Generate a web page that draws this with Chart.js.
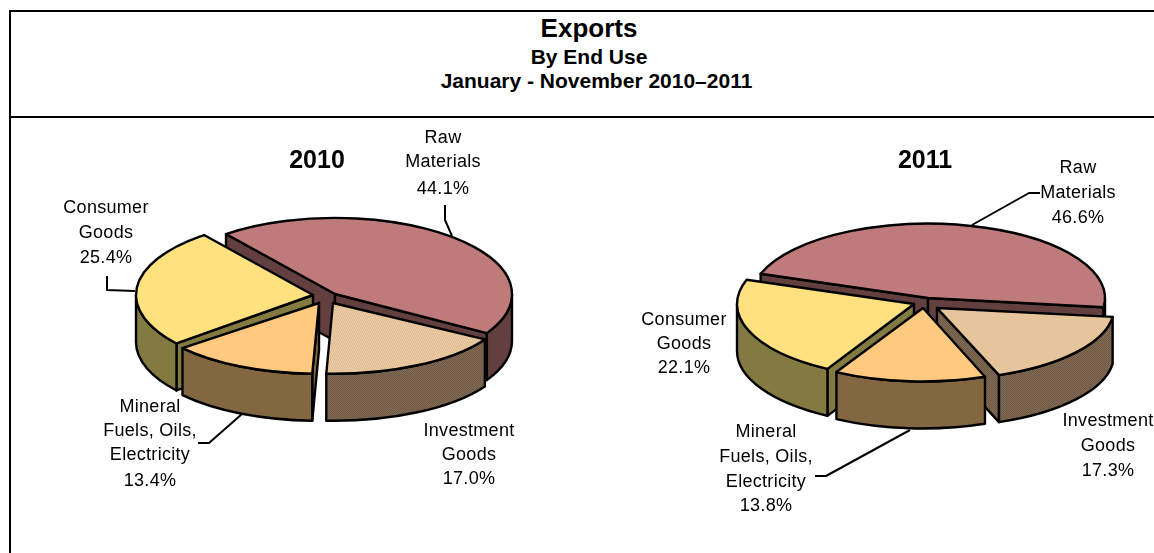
<!DOCTYPE html>
<html><head><meta charset="utf-8">
<script src="https://cdn.jsdelivr.net/npm/chart.js@4"></script>
<style>
html,body{margin:0;padding:0;background:#fff;width:1154px;height:553px;overflow:hidden;font-family:"Liberation Sans",Arial,sans-serif}
.ln{position:absolute;background:#000}
.t{position:absolute;left:0;text-align:center;font-weight:bold;color:#000;white-space:nowrap}
canvas{position:absolute}
#w1,#w2{position:absolute}
</style></head><body>
<div class="ln" style="left:10px;top:10px;width:1144px;height:2px"></div>
<div class="ln" style="left:10px;top:116px;width:1144px;height:2px"></div>
<div class="ln" style="left:9px;top:10px;width:2px;height:543px"></div>
<div class="t" style="top:13px;width:1178px;font-size:26px;line-height:30px">Exports</div>
<div class="t" style="top:46px;width:1178px;font-size:21px;line-height:22px">By End Use</div>
<div class="t" style="top:70px;width:1193px;font-size:21px;line-height:22px">January - November 2010–2011</div>
<div id="w1" style="left:10px;top:118px;width:590px;height:435px"><canvas id="c1"></canvas></div>
<div id="w2" style="left:600px;top:118px;width:554px;height:435px"><canvas id="c2"></canvas></div>
<script>
const categories = ["Raw Materials", "Investment Goods", "Mineral Fuels, Oils, Electricity", "Consumer Goods"];
const values2010 = [44.1, 17.0, 13.4, 25.4];
const values2011 = [46.6, 17.3, 13.8, 22.1];
const valueLabels2010 = ["44.1%", "17.0%", "13.4%", "25.4%"];
const valueLabels2011 = ["46.6%", "17.3%", "13.8%", "22.1%"];
const categoryLines = [["Raw","Materials"],["Investment","Goods"],["Mineral","Fuels, Oils,","Electricity"],["Consumer","Goods"]];

function dither(a, b){
  const c = document.createElement('canvas'); c.width = 2; c.height = 2;
  const x = c.getContext('2d');
  x.fillStyle = a; x.fillRect(0,0,2,2);
  x.fillStyle = b; x.fillRect(0,0,1,1); x.fillRect(1,1,1,1);
  return x.createPattern(c,'repeat');
}
const topColors = [dither('#c27c7c','#bd7a7a'), dither('#f0d2aa','#dcb88e'), '#ffc980', '#ffe27f'];
const sideColors = ['#633f3f', dither('#83694f','#6e5a48'), '#836740', '#837a41'];

const DEPTH = 47, RAD = 177, PAINT = [0,3,1,2];

const pie3d = {
  id:'pie3d',
  beforeDatasetsDraw(chart){
    const ctx = chart.ctx, meta = chart.getDatasetMeta(0), o = chart.options.plugins.pie3d;
    for (const i of PAINT){
      const a = meta.data[i], a1 = a.startAngle, a2 = a.endAngle, r = a.outerRadius;
      const cx = a.x + o.shifts[i][0], cy = a.y + o.shifts[i][1], tilt = o.shifts[i][2];
      const P = t => [cx + Math.cos(t)*r, cy + Math.sin(t)*r*tilt];
      ctx.save();
      ctx.lineWidth = 2.4; ctx.strokeStyle = '#000'; ctx.lineJoin = 'round';
      ctx.fillStyle = sideColors[i];
      const quad = (p,q)=>{ ctx.beginPath(); ctx.moveTo(p[0],p[1]); ctx.lineTo(q[0],q[1]); ctx.lineTo(q[0],q[1]+DEPTH); ctx.lineTo(p[0],p[1]+DEPTH); ctx.closePath(); ctx.fill(); ctx.stroke(); };
      if (Math.sin(a1-Math.PI/2) > 0) quad([cx,cy],P(a1));
      if (Math.sin(a2+Math.PI/2) > 0) quad([cx,cy],P(a2));
      for (let k=-1;k<=1;k++){
        const lo = Math.max(a1, 2*Math.PI*k), hi = Math.min(a2, Math.PI+2*Math.PI*k);
        if (hi>lo){
          ctx.beginPath();
          ctx.ellipse(cx,cy,r,r*tilt,0,lo,hi);
          ctx.ellipse(cx,cy+DEPTH,r,r*tilt,0,hi,lo,true);
          ctx.closePath(); ctx.fill(); ctx.stroke();
        }
      }
      ctx.save();
      ctx.translate(cx,cy); ctx.scale(1,tilt); ctx.translate(-a.x,-a.y);
      a.draw(ctx);
      ctx.restore();
      ctx.beginPath(); ctx.moveTo(cx,cy); ctx.ellipse(cx,cy,r,r*tilt,0,a1,a2); ctx.closePath(); ctx.stroke();
      ctx.restore();
    }
    return false;
  },
  afterDraw(chart){
    const o = chart.options.plugins.pie3d, ctx = chart.ctx;
    ctx.save();
    ctx.strokeStyle='#000'; ctx.lineWidth=2; ctx.lineJoin='round';
    for (const l of o.leaders){ ctx.beginPath(); l.forEach((p,j)=> j?ctx.lineTo(p[0],p[1]):ctx.moveTo(p[0],p[1])); ctx.stroke(); }
    ctx.fillStyle='#000'; ctx.textAlign='center'; ctx.textBaseline='middle';
    ctx.font='bold 25px "Liberation Sans"';
    ctx.fillText(o.year.text,o.year.x,o.year.y);
    ctx.font='18px "Liberation Sans"';
    ctx.letterSpacing='0.3px';
    o.labels.forEach((l,i)=>{
      const lines = o.lines[i].concat(o.vals[i]);
      lines.forEach((s,j)=>ctx.fillText(s,l.x,l.ys[j]));
    });
    ctx.restore();
  }
};

function make(id, vals, rot, pad, extra, offX, offY){
  const labels = extra.labels.map(l=>({x:l.x-offX, ys:l.ys.map(y=>y-offY)}));
  const leaders = extra.leaders.map(l=>l.map(p=>[p[0]-offX,p[1]-offY]));
  return new Chart(document.getElementById(id),{
    type:'pie',
    data:{labels:categories,datasets:[{data:vals,backgroundColor:topColors,borderWidth:0}]},
    options:{
      responsive:true,maintainAspectRatio:false,animation:false,
      rotation:rot,radius:RAD,
      layout:{padding:pad},
      events:[],
      plugins:{legend:{display:false},tooltip:{enabled:false},
        pie3d:{shifts:extra.shifts,leaders,labels,lines:categoryLines,vals:extra.vals,
          year:{text:extra.year,x:extra.yx-offX,y:extra.yy-offY}}}
    },
    plugins:[pie3d]
  });
}
make('c1',values2010,-38,{left:42,bottom:71},{
  shifts:[[9,-6,.43],[7,3,.40],[-7,3,.40],[-13,-5,.43]], year:'2010', yx:317, yy:161, vals:valueLabels2010,
  labels:[{x:443,ys:[138,162,189]},{x:469,ys:[431,455,479]},{x:150,ys:[407,431,455,481]},{x:106,ys:[208,233,258]}],
  leaders:[[[445,205],[445,220],[452,236]],[[107,276],[107,290],[135,291]],[[242,414],[209,443],[198,443]]]
},10,118);
make('c2',values2011,-71,{left:97,bottom:57},{
  shifts:[[2.5,-9,.42],[11.5,1,.405],[-2.5,1,.415],[-11.5,-3,.42]], year:'2011', yx:925, yy:161, vals:valueLabels2011,
  labels:[{x:1078,ys:[168,193,218]},{x:1108,ys:[421,446,471]},{x:766,ys:[432,457,482,506]},{x:684,ys:[320,344,368]}],
  leaders:[[[972,225],[1029,193],[1040,193]],[[910,430],[826,476],[815,476]]]
},600,118);
</script>
</body></html>
